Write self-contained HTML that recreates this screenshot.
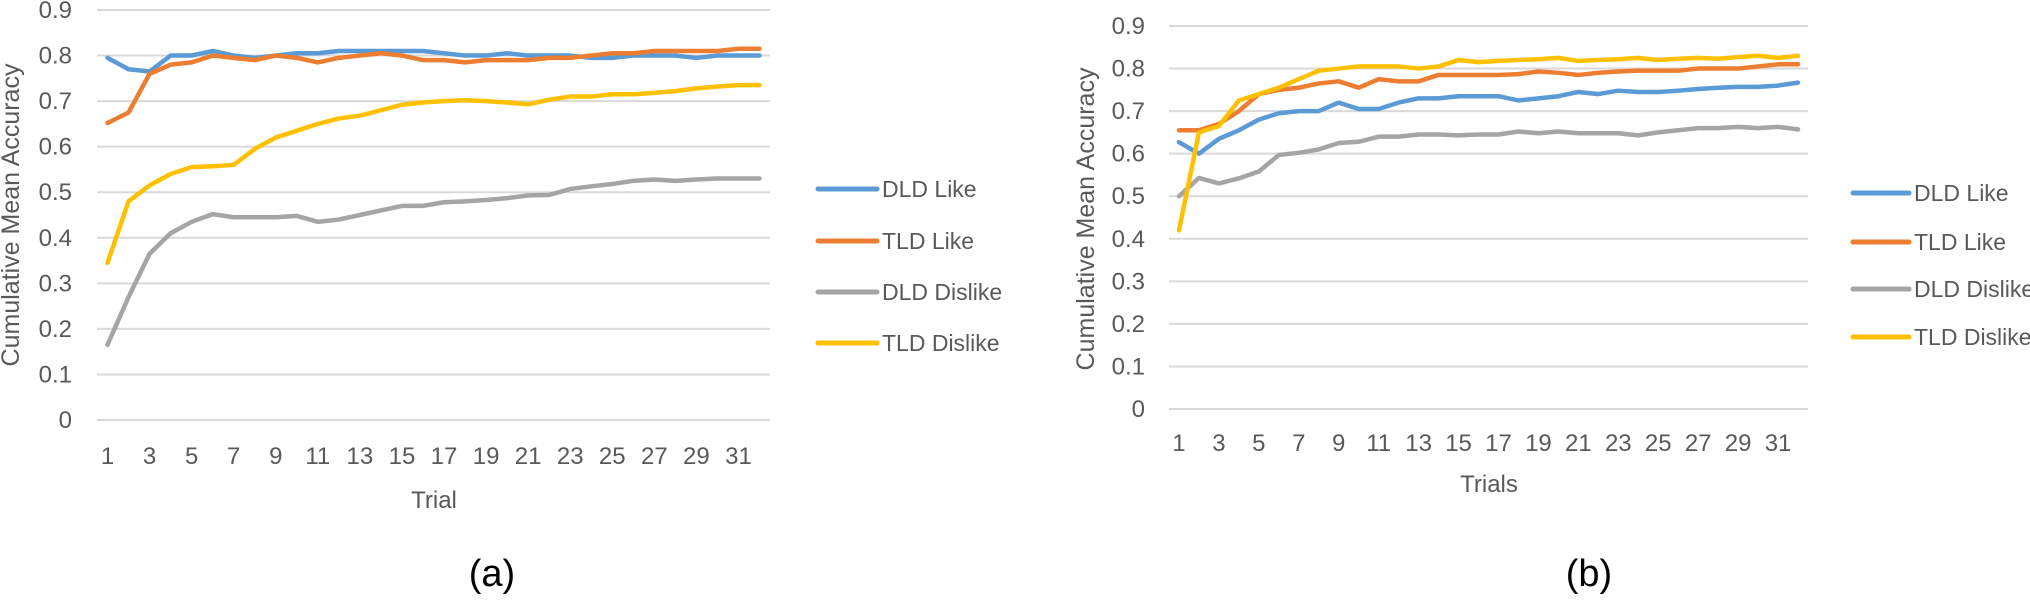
<!DOCTYPE html>
<html><head><meta charset="utf-8"><style>
body{margin:0;background:#fff;width:2030px;height:597px;overflow:hidden}
svg text{font-family:"Liberation Sans Narrow","Liberation Sans",sans-serif;fill:#595959}
</style></head><body>
<svg id="svg" width="2030" height="597"></svg>
<script>
const trials = Array.from({length:32},(_,i)=>i+1);
const seriesNames = ["DLD Like","TLD Like","DLD Dislike","TLD Dislike"];
const yTicks = [0,0.1,0.2,0.3,0.4,0.5,0.6,0.7,0.8,0.9];
const xTickLabels = [1,3,5,7,9,11,13,15,17,19,21,23,25,27,29,31];
const aDldLike=[.795,.77,.765,.80,.80,.81,.80,.795,.80,.805,.805,.81,.81,.81,.81,.81,.805,.80,.80,.805,.80,.80,.80,.795,.795,.80,.80,.80,.795,.80,.80,.80];
const aTldLike=[.652,.675,.76,.78,.785,.80,.795,.79,.80,.795,.785,.795,.80,.805,.80,.79,.79,.785,.79,.79,.79,.795,.795,.80,.805,.805,.81,.81,.81,.81,.815,.815];
const aDldDislike=[.165,.27,.365,.41,.435,.452,.445,.445,.445,.448,.435,.44,.45,.46,.47,.47,.478,.48,.483,.487,.493,.494,.507,.513,.518,.525,.528,.525,.528,.53,.53,.53];
const aTldDislike=[.345,.48,.515,.54,.555,.557,.56,.595,.62,.635,.65,.662,.668,.68,.692,.697,.70,.702,.70,.697,.693,.703,.71,.71,.715,.715,.718,.722,.728,.732,.735,.735];
const bDldLike=[.627,.60,.635,.655,.68,.695,.70,.70,.72,.705,.705,.72,.73,.73,.735,.735,.735,.725,.73,.735,.745,.74,.748,.745,.745,.748,.752,.755,.757,.757,.76,.767];
const bTldLike=[.655,.655,.67,.70,.74,.75,.755,.765,.77,.755,.775,.77,.77,.785,.785,.785,.785,.787,.793,.79,.785,.79,.793,.795,.795,.795,.80,.80,.80,.805,.81,.81];
const bDldDislike=[.50,.543,.53,.542,.558,.597,.602,.61,.625,.628,.64,.64,.645,.645,.643,.645,.645,.652,.648,.652,.648,.648,.648,.643,.65,.655,.66,.66,.663,.66,.663,.657];
const bTldDislike=[.42,.65,.665,.725,.74,.755,.775,.795,.80,.805,.805,.805,.80,.805,.82,.815,.818,.82,.822,.825,.818,.82,.822,.825,.82,.823,.825,.823,.827,.83,.825,.83];
const colors=["#5B9BD5","#ED7D31","#A5A5A5","#FFC000"];
const NS="http://www.w3.org/2000/svg";
const svg=document.getElementById('svg');
function mk(tag,attrs,parent,text){const e=document.createElementNS(NS,tag);for(const k in attrs)e.setAttribute(k,attrs[k]);if(text!==undefined)e.textContent=text;parent.appendChild(e);return e;}
function chart(cfg,series,tag){
  const g=mk('g',{},svg);
  
  
  const y=v=>cfg.y0+(cfg.y9-cfg.y0)*v/0.9;
  const step=(cfg.right-cfg.left)/trials.length;
  const x=t=>cfg.left+step*(t-0.5);
  yTicks.forEach(v=>{
    const l=mk('line',{x1:cfg.left,x2:cfg.right,y1:y(v),y2:y(v),stroke:'#d9d9d9','stroke-width':2},g);
    
    
    const t=mk('text',{x:cfg.ylx,y:y(v)+8,'text-anchor':'end','font-size':24},g,String(v));
    
    
  });
  xTickLabels.forEach(v=>{
    const t=mk('text',{x:x(v),y:cfg.xly,'text-anchor':'middle','font-size':24},g,String(v));
    
    
  });
  series.forEach((s,i)=>{
    const p=mk('polyline',{points:s.map((v,j)=>x(trials[j])+','+y(v)).join(' '),fill:'none',stroke:colors[i],'stroke-width':4.5,'stroke-linejoin':'round','stroke-linecap':'round'},g);
    
    
    const ly=cfg.legY[i];
    const ll=mk('line',{x1:cfg.legX,x2:cfg.legX+cfg.legW,y1:ly,y2:ly,stroke:colors[i],'stroke-width':5,'stroke-linecap':'round'},g);
    
    
    const lt=mk('text',{x:cfg.legX+cfg.legW+5,y:ly+8,'font-size':23},g,seriesNames[i]);
    
    
  });
  const yt=mk('text',{x:0,y:0,'text-anchor':'middle','font-size':25,transform:`translate(${cfg.ytx},${cfg.yty}) rotate(-90)`},g,'Cumulative Mean Accuracy');
  
  
  const xt=mk('text',{x:cfg.xtx,y:cfg.xty,'text-anchor':'middle','font-size':24},g,cfg.xtitle);
  
  
  const cap=mk('text',{x:cfg.capx,y:586,'text-anchor':'middle','font-size':38,style:'fill:#000'},g,cfg.cap);
  
  
}
chart({left:97,right:770,y0:420,y9:10,ylx:72,xly:464,legX:818,legW:59,legY:[189,241,292,343],ytx:19,yty:215,xtx:434,xty:508,xtitle:'Trial',capx:492,cap:'(a)'},[aDldLike,aTldLike,aDldDislike,aTldDislike],'a');
chart({left:1169,right:1808,y0:409,y9:26,ylx:1145,xly:451,legX:1853,legW:56,legY:[193,242,289,337],ytx:1094,yty:219,xtx:1489,xty:492,xtitle:'Trials',capx:1589,cap:'(b)'},[bDldLike,bTldLike,bDldDislike,bTldDislike],'b');
</script>
</body></html>
